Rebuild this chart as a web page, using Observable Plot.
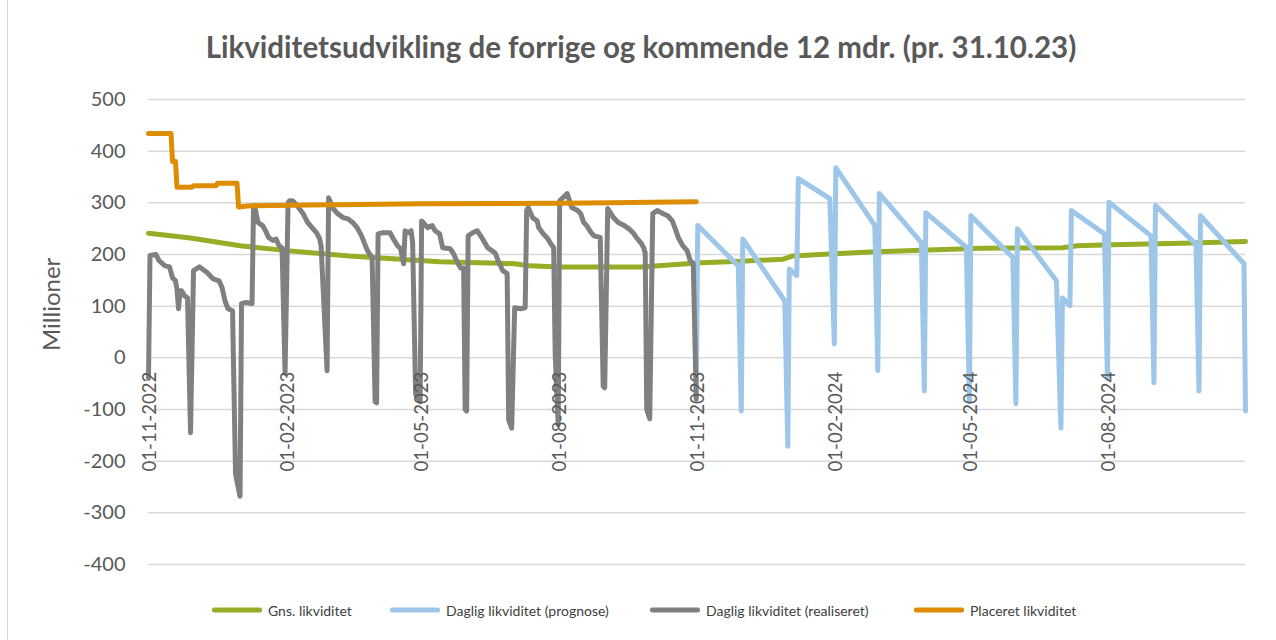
<!DOCTYPE html>
<html>
<head>
<meta charset="utf-8">
<script src="https://cdn.jsdelivr.net/npm/d3@7"></script>
<script src="https://cdn.jsdelivr.net/npm/@observablehq/plot@0.6"></script>
<style>
  html, body { margin: 0; padding: 0; background: #fff; }
  #wrap { position: relative; width: 1276px; height: 640px; overflow: hidden; font-family: Lato, sans-serif; color: #595959; }
  #border { position: absolute; left: 7px; top: 0; width: 1px; height: 640px; background: #d9d9d9; }
  #title { height: 80px; box-sizing: border-box; padding-top: 29px; padding-left: 6px; font-size: 29.5px; line-height: 36px; font-weight: bold; text-align: center; white-space: nowrap; }
  #chart svg { display: block; }
  #legend { position: relative; height: 55px; }
  .item { position: absolute; top: 25px; transform: translateY(-50%); display: flex; align-items: center; font-size: 14px; white-space: nowrap; color: #404040; }
  .sw { width: 50px; height: 4.5px; border-radius: 2px; margin-right: 6px; }
</style>
</head>
<body>
<div id="wrap">
  <div id="border"></div>
  <div id="title"></div>
  <div id="chart"></div>
  <div id="legend"></div>
</div>
<script>
const titleText = "Likviditetsudvikling de forrige og kommende 12 mdr. (pr. 31.10.23)";
const yAxisTitle = "Millioner";
const seriesNames = ["Gns. likviditet", "Daglig likviditet (prognose)", "Daglig likviditet (realiseret)", "Placeret likviditet"];
const seriesColors = ["#95ae26", "#9dc6e8", "#808080", "#de8c00"];
const yTicks = [500, 400, 300, 200, 100, 0, -100, -200, -300, -400];
const xTickLabels = ["01-11-2022", "01-02-2023", "01-05-2023", "01-08-2023", "01-11-2023", "01-02-2024", "01-05-2024", "01-08-2024"];
const xDomain = ["2022-10-31", "2024-10-31"];

// Gns. likviditet
const gns = [
  ["2022-10-31", 241], ["2022-11-28", 232], ["2022-12-31", 217], ["2023-02-02", 207],
  ["2023-03-14", 197], ["2023-04-17", 191], ["2023-05-13", 186], ["2023-06-22", 183],
  ["2023-07-02", 182], ["2023-07-12", 178], ["2023-08-01", 176], ["2023-09-24", 176],
  ["2023-11-03", 184], ["2023-11-30", 187], ["2023-12-28", 191], ["2024-01-03", 197],
  ["2024-01-28", 201], ["2024-02-24", 205], ["2024-03-29", 208], ["2024-05-08", 212],
  ["2024-07-01", 213], ["2024-07-11", 217], ["2024-08-03", 219], ["2024-09-19", 222],
  ["2024-10-31", 225]
];

// Daglig likviditet (prognose)
const prognose = [
  ["2023-10-31", -75], ["2023-11-01", 256], ["2023-11-28", 178], ["2023-11-30", -103],
  ["2023-12-01", 230], ["2023-12-29", 110], ["2023-12-31", -171],
  ["2024-01-01", 172], ["2024-01-06", 159], ["2024-01-07", 347], ["2024-01-28", 308], ["2024-01-31", 27],
  ["2024-02-01", 368], ["2024-02-27", 256], ["2024-02-29", -25],
  ["2024-03-01", 318], ["2024-03-29", 223], ["2024-03-31", -64],
  ["2024-04-01", 281], ["2024-04-28", 214], ["2024-04-30", -85],
  ["2024-05-01", 275], ["2024-05-29", 194], ["2024-05-31", -89],
  ["2024-06-01", 250], ["2024-06-27", 149], ["2024-06-30", -136],
  ["2024-07-01", 116], ["2024-07-06", 101], ["2024-07-07", 285], ["2024-07-29", 240], ["2024-07-31", -40],
  ["2024-08-01", 301], ["2024-08-29", 236], ["2024-08-31", -48],
  ["2024-09-01", 295], ["2024-09-28", 220], ["2024-09-30", -64],
  ["2024-10-01", 275], ["2024-10-30", 182], ["2024-10-31", -103]
];

// Daglig likviditet (realiseret)
const realiseret = [
  ["2022-10-31", -40], ["2022-11-01", 198], ["2022-11-05", 200], ["2022-11-07", 188], ["2022-11-11", 178],
  ["2022-11-14", 176], ["2022-11-16", 155], ["2022-11-18", 149], ["2022-11-19", 132], ["2022-11-20", 95],
  ["2022-11-21", 130], ["2022-11-22", 130], ["2022-11-24", 120], ["2022-11-26", 116], ["2022-11-28", -145],
  ["2022-11-30", 169], ["2022-12-04", 176], ["2022-12-09", 165], ["2022-12-13", 153], ["2022-12-17", 149],
  ["2022-12-19", 136], ["2022-12-21", 110], ["2022-12-23", 95], ["2022-12-26", 91], ["2022-12-28", -225],
  ["2022-12-29", -240], ["2022-12-31", -268], ["2023-01-01", 105], ["2023-01-04", 107], ["2023-01-08", 105],
  ["2023-01-09", 295], ["2023-01-10", 290], ["2023-01-12", 262], ["2023-01-15", 256], ["2023-01-17", 246],
  ["2023-01-19", 233], ["2023-01-22", 227], ["2023-01-24", 230], ["2023-01-26", 217], ["2023-01-28", 213],
  ["2023-01-30", -30], ["2023-02-01", 300], ["2023-02-02", 304], ["2023-02-04", 304], ["2023-02-07", 295],
  ["2023-02-11", 279], ["2023-02-14", 262], ["2023-02-17", 252], ["2023-02-20", 242], ["2023-02-22", 231],
  ["2023-02-23", 217], ["2023-02-27", -25], ["2023-02-28", 310], ["2023-03-03", 289], ["2023-03-06", 279],
  ["2023-03-10", 271], ["2023-03-13", 269], ["2023-03-16", 262], ["2023-03-19", 252], ["2023-03-22", 236],
  ["2023-03-24", 221], ["2023-03-26", 207], ["2023-03-28", 198], ["2023-03-29", 195], ["2023-03-31", -85],
  ["2023-04-01", -87], ["2023-04-02", 240], ["2023-04-05", 242], ["2023-04-10", 242], ["2023-04-12", 231],
  ["2023-04-15", 217], ["2023-04-17", 211], ["2023-04-19", 182], ["2023-04-20", 246], ["2023-04-22", 242],
  ["2023-04-24", 246], ["2023-04-25", 223], ["2023-04-27", -70], ["2023-04-30", -85], ["2023-05-01", 265],
  ["2023-05-05", 252], ["2023-05-08", 256], ["2023-05-10", 246], ["2023-05-13", 240], ["2023-05-15", 213],
  ["2023-05-20", 211], ["2023-05-22", 203], ["2023-05-25", 184], ["2023-05-27", 174], ["2023-05-29", 174],
  ["2023-05-30", -100], ["2023-05-31", -103], ["2023-06-01", 236], ["2023-06-04", 242], ["2023-06-07", 246],
  ["2023-06-10", 233], ["2023-06-12", 223], ["2023-06-14", 213], ["2023-06-17", 207], ["2023-06-19", 203],
  ["2023-06-21", 188], ["2023-06-24", 169], ["2023-06-27", 163], ["2023-06-28", -120], ["2023-06-30", -136],
  ["2023-07-02", 97], ["2023-07-06", 95], ["2023-07-09", 97], ["2023-07-10", 285], ["2023-07-11", 291],
  ["2023-07-14", 271], ["2023-07-17", 265], ["2023-07-18", 252], ["2023-07-21", 240], ["2023-07-24", 231],
  ["2023-07-26", 221], ["2023-07-28", 213], ["2023-07-29", 8], ["2023-07-31", -130], ["2023-08-01", 304],
  ["2023-08-06", 318], ["2023-08-09", 291], ["2023-08-13", 285], ["2023-08-15", 279], ["2023-08-17", 262],
  ["2023-08-19", 256], ["2023-08-22", 242], ["2023-08-24", 236], ["2023-08-28", 233], ["2023-08-30", -55],
  ["2023-08-31", -58], ["2023-09-02", 289], ["2023-09-06", 271], ["2023-09-09", 262], ["2023-09-13", 256],
  ["2023-09-16", 250], ["2023-09-19", 242], ["2023-09-21", 233], ["2023-09-24", 223], ["2023-09-26", 213],
  ["2023-09-27", 203], ["2023-09-28", -100], ["2023-09-30", -118], ["2023-10-02", 279], ["2023-10-05", 285],
  ["2023-10-09", 279], ["2023-10-12", 275], ["2023-10-15", 265], ["2023-10-17", 250], ["2023-10-19", 233],
  ["2023-10-22", 217], ["2023-10-25", 207], ["2023-10-27", 188], ["2023-10-29", 182], ["2023-10-31", -80]
];

// Placeret likviditet
const placeret = [
  ["2022-10-31", 434], ["2022-11-15", 434], ["2022-11-16", 380], ["2022-11-18", 380], ["2022-11-19", 330],
  ["2022-11-29", 330], ["2022-11-30", 333], ["2022-12-15", 333], ["2022-12-16", 338], ["2022-12-29", 338],
  ["2022-12-30", 292], ["2023-01-05", 294], ["2023-02-15", 296], ["2023-03-20", 297], ["2023-05-01", 298],
  ["2023-08-01", 299], ["2023-09-05", 300], ["2023-10-01", 301], ["2023-10-31", 302]
];

const parse = d3.utcParse("%Y-%m-%d");
const parseDMY = d3.utcParse("%d-%m-%Y");
const rows = arr => arr.map(([d, v]) => ({date: parse(d), value: v}));
const series = [gns, prognose, realiseret, placeret].map(rows);
const xTicks = xTickLabels.map(s => ({label: s, date: parseDMY(s)}));

document.getElementById("title").textContent = titleText;

const lineStyle = {strokeWidth: 5, strokeLinejoin: "round", strokeLinecap: "round"};

const chart = Plot.plot({
  width: 1276,
  height: 505,
  marginLeft: 148,
  marginRight: 31,
  marginTop: 19,
  marginBottom: 21,
  x: {type: "utc", domain: xDomain.map(parse), axis: null},
  y: {domain: [-400, 500], axis: null},
  style: {fontFamily: "Lato, sans-serif", color: "#595959", background: "#fff", overflow: "visible"},
  marks: [
    Plot.gridY(yTicks, {stroke: "#d9d9d9", strokeOpacity: 1, strokeWidth: 1.5}),
    Plot.axisY(yTicks, {tickSize: 0, tickPadding: 23, fontSize: 20, label: null, tickFormat: d => String(d)}),
    Plot.text([yAxisTitle], {frameAnchor: "left", rotate: -90, dx: -96, dy: 19, fontSize: 24, fill: "#595959"}),
    ...series.map((data, i) => Plot.line(data, {x: "date", y: "value", stroke: seriesColors[i], ...lineStyle})),
    Plot.text(xTicks, {x: "date", y: () => 0, text: "label", rotate: -90, textAnchor: "end", dy: 14, fontSize: 18.5, fill: "#595959"})
  ]
});
document.getElementById("chart").appendChild(chart);

const legendLeft = [212, 390, 650, 914];
const legend = document.getElementById("legend");
seriesNames.forEach((name, i) => {
  const item = document.createElement("div");
  item.className = "item";
  item.style.left = legendLeft[i] + "px";
  const sw = document.createElement("span");
  sw.className = "sw";
  sw.style.background = seriesColors[i];
  const label = document.createElement("span");
  label.textContent = name;
  item.appendChild(sw);
  item.appendChild(label);
  legend.appendChild(item);
});
</script>
</body>
</html>
